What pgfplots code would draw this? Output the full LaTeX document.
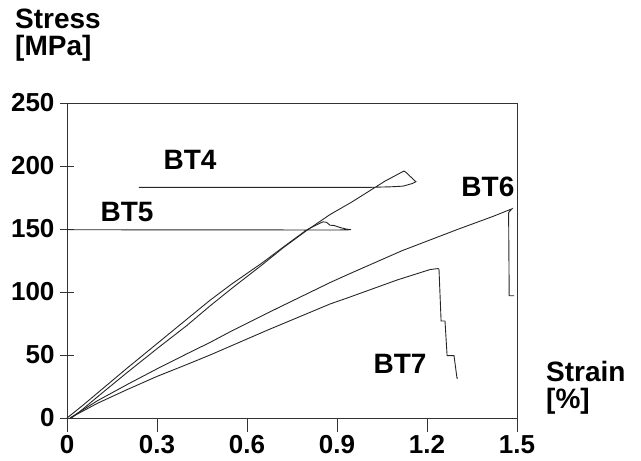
\documentclass[border=0pt]{standalone}
\usepackage{pgfplots}
\pgfplotsset{compat=1.18}
\usepackage{fontspec}
\setmainfont{Liberation Sans}
\newcommand\tickfont{\fontsize{26}{26}\selectfont\bfseries}
\newcommand\labfont{\fontsize{28}{28}\selectfont\bfseries}
\newcommand\btfont{\fontsize{28}{28}\selectfont\bfseries}
\begin{document}
\begin{tikzpicture}[x=1pt,y=1pt]
\useasboundingbox (0,0) rectangle (641,461);
\begin{axis}[
  at={(67pt,43pt)}, anchor=south west,
  scale only axis, width=450pt, height=315pt,
  xmin=0, xmax=1.5, ymin=0, ymax=250,
  xtick={0,0.3,0.6,0.9,1.2,1.5},
  xticklabels={0,0.3,0.6,0.9,1.2,1.5},
  ytick={0,50,100,150,200,250},
  xtick pos=left, ytick pos=left,
  tick align=center, major tick length=14pt,
  xtick style={yshift=-7pt},
  axis line style={black!80, line width=0.8pt},
  tick style={black!80, line width=0.8pt},
  /pgf/number format/assume math mode=true,
  ticklabel style={font=\tickfont},
  yticklabel style={xshift=-2pt},
  xticklabel style={yshift=-7pt},
  clip=false,
  curve/.style={black!85, line width=0.9pt, no markers},
]
% BT4
\addplot[curve] coordinates {(0.015,0)(0.05,6.5)(0.1,16.5)(0.2,36)(0.3,55)(0.4,73.5)(0.477,89)(0.55,103)(0.65,121.5)(0.72,135)(0.8,149)(0.877,161.5)(0.95,171.5)(1.0,179)(1.06,188)(1.123,196)(1.13,195)(1.143,192)(1.163,187.5)(1.15,186)(1.12,184)(1.08,183.5)(1.0,183)(0.24,183)};
% BT5
\addplot[curve] coordinates {(0,0)(0.05,9.5)(0.1,19.5)(0.2,39.5)(0.3,59)(0.4,78.5)(0.477,93.5)(0.55,106.5)(0.65,123)(0.72,135.5)(0.8,149.5)(0.853,155.7)(0.865,155.3)(0.877,153)(0.89,152.8)(0.9,152)(0.913,151)(0.93,150)(0.947,149.4)(0.9,149.2)(0.5,149.3)(0,149.4)};
% BT6
\addplot[curve] coordinates {(0.01,0)(0.1,13.5)(0.2,26.5)(0.3,39)(0.4,51)(0.477,60)(0.553,69.6)(0.7,87)(0.877,107.5)(0.943,114.6)(1.117,132.8)(1.3,149.5)(1.42,160)(1.483,166)(1.472,163)(1.474,97)(1.49,97)};
% BT7
\addplot[curve] coordinates {(0.01,0)(0.1,11.5)(0.2,22.5)(0.3,33)(0.4,42.5)(0.477,50)(0.667,69.6)(0.877,90.5)(0.943,96)(1.1,109.5)(1.21,117.8)(1.237,118.6)(1.24,118)(1.247,77)(1.26,77)(1.267,49.5)(1.29,49.5)(1.30,31.6)(1.303,31.6)};
\node[font=\btfont] at (axis cs:0.41,204.7) {BT4};
\node[font=\btfont] at (axis cs:0.2,163.6) {BT5};
\node[font=\btfont] at (axis cs:1.403,183.4) {BT6};
\node[font=\btfont] at (axis cs:1.11,42.7) {BT7};
\end{axis}
\node[font=\labfont, anchor=base west, inner sep=0pt] at (15,432) {Stress};
\node[font=\labfont, anchor=base west, inner sep=0pt] at (15,405) {[MPa]};
\node[font=\labfont, anchor=base west, inner sep=0pt] at (546,79) {Strain};
\node[font=\labfont, anchor=base west, inner sep=0pt] at (546,52) {[\%]};
\end{tikzpicture}
\end{document}
